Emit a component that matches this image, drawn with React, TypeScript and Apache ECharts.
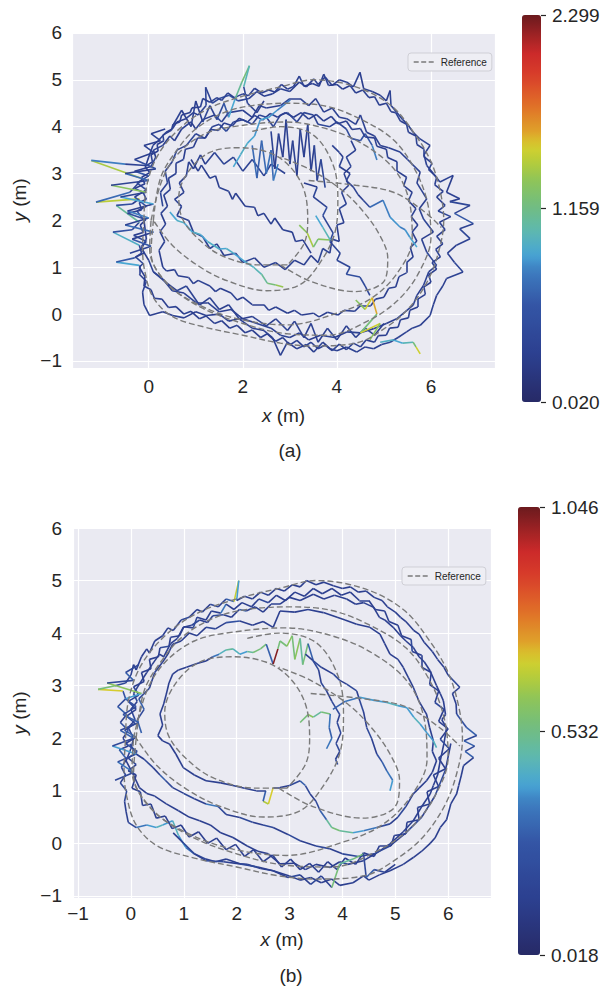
import React, { useEffect, useRef } from 'react';
import * as echarts from 'echarts';

type P = [number, number, number];

// ---------- colour bar ranges and tick labels ----------
const A_MIN = 0.020;
const A_MAX = 2.299;
const B_MIN = 0.018;
const B_MAX = 1.046;
const A_BAR_TICKS = ['0.020', '1.159', '2.299'];
const B_BAR_TICKS = ['0.018', '0.532', '1.046'];

// ---------- reference path (same in both panels) ----------
const REF_OUTER: [number, number][] = [[-0.1,2.0],[-0.05,2.7],[0.2,3.4],[0.7,4.0],[1.3,4.4],[2.0,4.65],[2.8,4.85],[3.5,5.0],[4.4,4.85],[5.15,4.45],[5.65,3.85],[6.0,3.25],[6.2,2.6],[6.27,2.0],[6.18,1.4],[5.95,0.75],[5.55,0.15],[5.05,-0.28],[4.4,-0.62],[3.5,-0.68],[2.8,-0.62],[2.0,-0.45],[1.2,-0.28],[0.5,-0.05],[0.1,0.35],[-0.08,0.9],[-0.13,1.4],[-0.1,2.0]];
const REF_SECOND: [number, number][] = [[0.1,2.0],[0.25,2.9],[0.6,3.5],[1.0,3.95],[1.6,4.3],[2.2,4.45],[3.0,4.5],[3.8,4.43],[4.5,4.16],[5.2,3.72],[5.65,3.1],[5.92,2.4],[6.0,1.65],[5.75,0.9],[5.3,0.3],[4.65,-0.15],[3.8,-0.45],[2.95,-0.42],[2.0,-0.2],[1.1,0.15],[0.4,0.65],[0.05,1.3],[0.1,2.0]];
const REF_THIRD: [number, number][] = [[0.05,2.0],[0.3,2.9],[0.65,3.45],[1.2,3.85],[1.8,4.0],[2.9,4.1],[3.8,3.95],[4.6,3.6],[5.25,3.05],[5.55,2.35],[5.6,1.6],[5.3,0.9],[4.75,0.35],[4.0,0.02],[2.95,-0.23],[1.93,-0.11],[1.08,0.19],[0.36,0.68],[0.02,1.39],[0.05,2.0]];
const REF_INNER: [number, number][] = [[2.95,1.05],[2.35,1.05],[1.57,1.24],[1.08,1.58],[0.72,2.03],[0.64,2.5],[0.85,3.05],[1.3,3.45],[1.9,3.55],[2.55,3.45],[3.0,3.15],[3.3,2.65],[3.38,2.0],[3.3,1.5],[2.95,1.05]];
const REF_CENTER: [number, number][] = [[2.2,3.9],[2.8,4.0],[3.5,3.82],[3.92,3.18],[4.02,2.45],[3.96,1.75],[3.65,1.11],[3.2,0.62],[2.5,0.5],[1.7,0.7],[1.1,1.0],[0.5,1.47],[0.08,2.03]];
const REF_LOOP: [number, number][] = [[2.8,1.05],[3.44,0.7],[4.39,0.48],[5.0,0.7],[5.08,1.2],[4.9,1.7],[4.55,2.2],[4.1,2.65],[3.4,3.1],[2.8,3.35]];
const REF_CROSS: [number, number][] = [[3.4,2.85],[4.4,2.75],[5.2,2.6],[5.84,2.2],[6.22,1.85]];
const REF_PATHS = [REF_OUTER, REF_SECOND, REF_THIRD, REF_INNER, REF_CENTER, REF_LOOP, REF_CROSS];

// ---------- panel (a) estimated trajectory: [x, y, error] ----------
const A_LAP1: P[] = [[0.02,-0.03,0.3],[-0.1,0.2,0.35],[-0.13,0.47,0.3],[-0.05,0.7,0.35],[-0.2,0.85,0.3],[-0.2,1.04,0.35],[-0.69,1.11,0.9],[-0.3,1.2,0.6],[-0.15,1.3,0.3],[-0.2,1.47,0.35],[-0.76,1.75,0.95],[-0.35,1.8,0.55],[-0.2,1.96,0.35],[-0.69,2.32,1.1],[-0.35,2.35,0.5],[-0.2,2.46,0.3],[-1.12,2.39,1.45],[-0.4,2.6,0.7],[-0.13,2.89,0.35],[-1.22,3.28,1.4],[-0.5,3.2,0.8],[-0.06,3.17,0.35],[0.0,3.35,0.3],[0.09,3.6,0.35],[0.2,3.7,0.3],[0.37,3.88,0.35],[0.5,3.95,0.3],[0.6,4.1,0.35],[0.79,4.17,0.3],[0.95,4.3,0.35],[1.05,4.25,0.3],[1.22,4.45,0.35],[1.21,4.84,0.4],[1.35,4.5,0.35],[1.5,4.6,0.4],[1.71,4.67,0.5],[1.9,4.55,0.6],[2.13,4.6,0.4],[2.3,4.75,0.35],[2.45,4.65,0.3],[2.63,4.7,0.35],[2.8,4.81,0.3],[3.0,4.75,0.35],[3.2,4.95,0.3],[3.35,4.85,0.35],[3.51,5.02,0.3],[3.6,4.9,0.35],[3.75,5.06,0.3],[3.9,4.88,0.35],[4.05,5.0,0.3],[4.21,4.95,0.35],[4.35,4.85,0.3],[4.49,5.16,0.35],[4.57,4.81,0.3],[4.75,4.75,0.35],[4.92,4.67,0.3],[5.05,4.55,0.35],[5.13,4.77,0.3],[5.15,4.45,0.35],[5.27,4.31,0.3],[5.4,4.15,0.35],[5.5,4.05,0.3],[5.62,3.88,0.35],[5.75,3.75,0.3],[5.98,3.6,0.35],[5.85,3.4,0.3],[5.91,3.17,0.35],[6.05,3.0,0.3],[6.19,2.82,0.35],[6.47,2.96,0.35],[6.33,2.6,0.3],[6.61,2.46,0.35],[6.4,2.4,0.3],[6.83,2.32,0.4],[6.5,2.15,0.35],[6.9,1.93,0.6],[6.61,1.82,0.35],[6.83,1.61,0.4],[6.54,1.47,0.35],[6.35,1.3,0.3],[6.5,1.1,0.35],[6.68,0.9,0.4],[6.33,0.76,0.35],[6.25,0.6,0.3],[6.12,0.4,0.35],[6.05,0.2,0.3],[5.98,-0.03,0.35],[5.77,-0.24,0.3],[5.6,-0.3,0.35],[5.48,-0.38,0.3],[5.3,-0.5,0.35],[5.13,-0.6,0.3],[4.95,-0.65,0.35],[4.78,-0.74,0.3],[4.6,-0.7,0.35],[4.42,-0.81,0.3],[4.2,-0.7,0.35],[4.0,-0.78,0.3],[3.86,-0.74,0.35],[3.7,-0.6,0.3],[3.51,-0.81,0.35],[3.35,-0.65,0.3],[3.15,-0.74,0.35],[2.95,-0.6,0.3],[2.8,-0.88,0.35],[2.63,-0.5,0.3],[2.45,-0.35,0.35],[2.2,-0.3,0.3],[1.92,-0.1,0.35],[1.7,-0.15,0.3],[1.5,0.0,0.35],[1.22,-0.03,0.3],[1.0,0.05,0.35],[0.75,-0.08,0.3],[0.51,-0.03,0.35],[0.3,0.05,0.3],[0.02,-0.03,0.3]];
const A_LAP2: P[] = [[-0.1,2.0,0.3],[-0.25,2.2,0.5],[-0.05,2.3,0.3],[-0.3,2.5,0.55],[-0.05,2.65,0.3],[-0.25,2.8,0.45],[0.0,2.95,0.3],[-0.3,3.05,0.6],[0.05,3.15,0.3],[0.15,3.35,0.35],[0.1,3.5,0.3],[0.3,3.6,0.35],[0.45,3.8,0.3],[0.55,3.7,0.35],[0.7,3.95,0.3],[0.9,4.1,0.35],[1.0,3.95,0.3],[1.15,4.15,0.35],[1.4,4.25,0.3],[1.55,4.1,0.45],[1.7,4.3,0.35],[2.0,4.35,0.3],[2.2,4.2,0.35],[2.35,4.45,0.3],[2.5,4.4,0.35],[2.8,4.45,0.3],[3.0,4.6,0.35],[3.22,4.6,0.3],[3.4,4.45,0.35],[3.55,4.6,0.3],[3.72,4.31,0.35],[3.9,4.4,0.3],[4.05,4.2,0.35],[4.21,4.17,0.3],[4.4,4.05,0.35],[4.5,4.25,0.3],[4.63,3.88,0.35],[4.8,3.8,0.3],[4.92,3.6,0.35],[5.1,3.55,0.3],[5.34,3.46,0.35],[5.5,3.3,0.3],[5.77,3.03,0.35],[5.7,2.8,0.3],[5.91,2.46,0.35],[5.75,2.25,0.3],[5.84,2.03,0.35],[6.05,1.75,0.4],[5.8,1.6,0.3],[5.91,1.32,0.35],[6.12,1.04,0.4],[5.95,0.9,0.3],[5.84,0.61,0.35],[5.7,0.4,0.3],[5.62,0.19,0.35],[5.45,0.05,0.3],[5.27,-0.1,0.35],[5.05,-0.2,0.3],[4.78,-0.31,0.35],[4.5,-0.4,0.3],[4.21,-0.38,0.35],[3.95,-0.5,0.3],[3.65,-0.45,0.35],[3.4,-0.55,0.3],[3.2,-0.4,0.35],[3.0,-0.5,0.3],[2.8,-0.45,0.35],[2.6,-0.3,0.3],[2.3,-0.2,0.35],[2.0,-0.1,0.3],[1.75,0.1,0.35],[1.5,0.05,0.3],[1.25,0.25,0.35],[1.0,0.25,0.3],[0.75,0.45,0.35],[0.5,0.5,0.3],[0.3,0.75,0.35],[0.1,0.9,0.3],[0.0,1.15,0.35],[-0.15,1.4,0.3],[-0.05,1.6,0.35],[-0.1,2.0,0.3]];
const A_LAP3: P[] = [[0.3,2.3,0.35],[0.25,2.6,0.4],[0.4,2.8,0.35],[0.35,3.05,0.4],[0.5,3.25,0.35],[0.6,3.5,0.4],[0.8,3.6,0.35],[1.0,3.85,0.4],[1.2,3.75,0.35],[1.35,4.0,0.4],[1.5,4.05,0.35],[1.65,3.9,0.5],[1.8,4.1,0.4],[2.0,4.15,0.35],[2.2,4.05,0.4],[2.35,4.25,0.35],[2.5,4.2,0.4],[2.65,4.0,0.35],[2.8,4.25,0.4],[2.95,4.3,0.35],[3.15,4.1,0.4],[3.3,4.3,0.35],[3.5,4.25,0.4],[3.6,4.05,0.35],[3.85,4.0,0.4],[4.0,4.1,0.35],[4.2,3.95,0.4],[4.3,3.75,0.45],[4.5,3.7,0.5],[4.6,3.85,0.55],[4.75,3.6,0.6],[4.85,3.29,0.8]];
const A_LAP4: P[] = [[-0.2,1.0,0.3],[-0.12,1.08,0.35],[-0.28,1.22,0.4],[-0.1,1.3,0.3],[-0.15,1.45,0.35],[-0.05,1.55,0.3],[-0.32,1.68,0.45],[-0.12,1.74,0.3],[-0.18,1.9,0.35],[-0.06,2.02,0.3],[-0.45,2.15,0.5],[-0.15,2.22,0.3],[-0.2,2.38,0.4],[-0.05,2.45,0.3],[-0.12,2.6,0.35],[-0.3,2.68,0.45],[-0.08,2.78,0.3],[-0.15,2.92,0.35],[0.02,3.02,0.3],[-0.08,3.15,0.35],[0.08,3.25,0.3],[0.05,3.4,0.35],[0.2,3.48,0.3],[0.18,3.62,0.35],[0.32,3.7,0.3],[0.3,3.82,0.35],[0.48,3.92,0.3],[0.52,4.05,0.35],[0.66,4.1,0.3],[0.7,4.25,0.35],[0.88,4.3,0.3],[0.92,4.4,0.35],[1.1,4.42,0.3],[1.15,4.6,0.35],[1.3,4.52,0.3],[1.45,4.62,0.35],[1.55,4.56,0.3],[1.68,4.72,0.35],[1.82,4.62,0.3],[2.0,4.7,0.35],[2.12,4.66,0.3],[2.25,4.82,0.35],[2.4,4.72,0.3],[2.55,4.78,0.35],[2.68,4.74,0.3],[2.82,4.9,0.35],[2.95,4.8,0.3],[3.08,4.86,0.35],[3.2,5.08,0.3],[3.3,4.86,0.35],[3.48,4.92,0.3],[3.62,4.86,0.35],[3.72,5.12,0.3],[3.82,4.88,0.35],[4.0,4.9,0.3],[4.12,4.8,0.35],[4.28,4.88,0.3],[4.4,4.72,0.35],[4.55,4.78,0.3],[4.68,4.62,0.35],[4.8,4.64,0.3],[4.9,4.46,0.35],[5.05,4.5,0.3],[5.15,4.32,0.35],[5.25,4.3,0.3],[5.35,4.12,0.35],[5.48,4.05,0.3],[5.52,3.88,0.35],[5.68,3.8,0.3],[5.7,3.62,0.35],[5.85,3.52,0.3],[5.85,3.36,0.35],[6.02,3.22,0.3],[5.95,3.08,0.35],[6.12,2.92,0.3],[6.08,2.76,0.35],[6.26,2.62,0.3],[6.12,2.5,0.35],[6.3,2.32,0.3],[6.15,2.2,0.35],[6.42,2.08,0.4],[6.18,1.96,0.3],[6.3,1.8,0.35],[6.12,1.66,0.3],[6.25,1.5,0.35],[6.1,1.38,0.3],[6.2,1.22,0.35],[6.02,1.1,0.3],[6.12,0.96,0.35],[5.95,0.84,0.3],[6.0,0.68,0.35],[5.85,0.58,0.3],[5.88,0.42,0.35],[5.72,0.32,0.3],[5.72,0.15,0.35],[5.55,0.08,0.3],[5.52,-0.08,0.35],[5.35,-0.12,0.3],[5.3,-0.28,0.35],[5.12,-0.3,0.3],[5.05,-0.45,0.35],[4.88,-0.46,0.3],[4.8,-0.6,0.35],[4.62,-0.55,0.3],[4.5,-0.7,0.35],[4.35,-0.62,0.3],[4.2,-0.76,0.35],[4.05,-0.64,0.3],[3.9,-0.78,0.35],[3.75,-0.66,0.3],[3.6,-0.74,0.35],[3.45,-0.6,0.3],[3.3,-0.7,0.35],[3.15,-0.56,0.3],[3.0,-0.66,0.35],[2.85,-0.5,0.3],[2.7,-0.58,0.35],[2.52,-0.42,0.3],[2.38,-0.5,0.35],[2.2,-0.34,0.3],[2.05,-0.4,0.35],[1.88,-0.24,0.3],[1.72,-0.3,0.35],[1.55,-0.14,0.3],[1.4,-0.2,0.35],[1.22,-0.04,0.3],[1.08,-0.1,0.35],[0.9,0.06,0.3],[0.75,0.0,0.35],[0.58,0.16,0.3],[0.42,0.14,0.35],[0.28,0.32,0.3],[0.12,0.34,0.35],[0.05,0.52,0.3],[-0.1,0.6,0.35],[-0.08,0.8,0.3],[-0.2,1.0,0.3]];
const A_LAP5: P[] = [[0.3,1.0,0.3],[0.38,0.92,0.35],[0.55,0.95,0.3],[0.62,0.82,0.35],[0.85,0.78,0.3],[0.95,0.65,0.35],[1.05,0.72,0.3],[1.3,0.6,0.35],[1.42,0.48,0.3],[1.52,0.55,0.35],[1.75,0.45,0.3],[1.88,0.3,0.35],[2.0,0.36,0.3],[2.2,0.2,0.35],[2.45,0.2,0.3],[2.55,0.08,0.35],[2.7,0.15,0.3],[2.95,0.02,0.35],[3.1,0.08,0.3],[3.25,-0.02,0.35],[3.5,0.02,0.3],[3.62,-0.06,0.35],[3.8,0.04,0.3],[4.02,-0.02,0.35],[4.15,0.08,0.3],[4.38,0.06,0.35],[4.5,0.18,0.3],[4.72,0.18,0.35],[4.82,0.32,0.3],[5.0,0.36,0.35],[5.1,0.55,0.3],[5.25,0.58,0.35],[5.32,0.8,0.3],[5.48,0.88,0.35],[5.48,1.1,0.3],[5.62,1.22,0.35],[5.56,1.42,0.3],[5.7,1.56,0.35],[5.6,1.75,0.3],[5.72,1.9,0.35],[5.58,2.08,0.3],[5.68,2.25,0.35],[5.52,2.42,0.3],[5.6,2.6,0.35],[5.42,2.74,0.3],[5.48,2.92,0.35],[5.28,3.05,0.3],[5.28,3.25,0.35],[5.08,3.34,0.3],[5.05,3.52,0.35],[4.85,3.58,0.3],[4.8,3.76,0.35],[4.6,3.78,0.3],[4.5,3.96,0.35],[4.32,3.94,0.3],[4.2,4.12,0.35],[4.02,4.06,0.3],[3.88,4.22,0.35],[3.72,4.12,0.3],[3.56,4.26,0.35],[3.4,4.16,0.3],[3.24,4.3,0.35],[3.08,4.2,0.3],[2.9,4.3,0.35],[2.74,4.2,0.3],[2.58,4.28,0.35],[2.42,4.14,0.3],[2.25,4.24,0.35],[2.1,4.1,0.3],[1.92,4.18,0.35],[1.78,4.02,0.3],[1.6,4.08,0.35],[1.48,3.92,0.3],[1.32,3.94,0.35],[1.2,3.76,0.3],[1.04,3.76,0.35],[0.95,3.56,0.3],[0.78,3.52,0.35],[0.74,3.3,0.3],[0.58,3.22,0.35],[0.58,3.0,0.3],[0.42,2.9,0.35],[0.46,2.66,0.3],[0.32,2.54,0.35],[0.4,2.3,0.3],[0.26,2.15,0.35],[0.36,1.92,0.3],[0.24,1.76,0.35],[0.34,1.55,0.3],[0.22,1.36,0.35],[0.3,1.0,0.3]];
const A_LEFT: P[] = [[-0.4,1.3,0.5],[0.05,1.45,0.35],[-0.35,1.6,0.6],[0.1,1.75,0.3],[-0.5,1.9,0.7],[0.0,2.05,0.35],[-0.45,2.2,0.8],[0.1,2.35,0.3],[-0.6,2.5,0.9],[-0.05,2.6,0.35],[-0.8,2.75,1.3],[0.0,2.85,0.35],[-0.5,3.0,0.7],[0.15,3.1,0.3],[-0.3,3.3,0.5],[0.1,3.45,0.3],[-0.1,3.6,0.35],[0.25,3.7,0.3],[0.05,3.85,0.35],[0.35,3.95,0.3]];
const A_TOPLEFT: P[] = [[0.5,4.0,0.3],[0.7,4.35,0.35],[0.9,4.0,0.3],[1.0,4.55,0.35],[1.15,4.1,0.3],[1.3,4.45,0.4],[1.45,4.15,0.35],[1.6,4.5,0.45],[1.7,4.2,0.6],[1.84,4.6,0.9],[1.98,4.95,1.1],[2.14,5.3,1.2],[2.02,4.85,1.0],[2.1,4.5,0.4],[2.3,4.3,0.35],[2.45,4.55,0.3]];
const A_INNER: P[] = [[2.9,3.0,0.3],[2.6,3.2,0.35],[2.45,2.95,0.3],[2.2,3.3,0.4],[2.0,3.05,0.35],[1.8,3.35,0.4],[1.6,3.2,0.35],[1.4,3.45,0.4],[1.2,3.2,0.35],[1.1,3.4,0.3],[0.95,3.1,0.35],[0.85,3.25,0.3],[0.8,2.95,0.35],[0.65,2.8,0.3],[0.75,2.6,0.35],[0.55,2.45,0.3],[0.7,2.3,0.35],[0.6,2.1,0.3],[0.85,2.0,0.35],[0.95,1.75,0.3],[1.15,1.65,0.35],[1.3,1.4,0.3],[1.45,1.5,0.35],[1.6,1.25,0.3],[1.85,1.3,0.35],[2.0,1.1,0.3],[2.25,1.2,0.35],[2.45,1.0,0.3],[2.7,1.1,0.35],[2.9,0.95,0.3],[3.1,1.15,0.35],[3.3,1.05,0.3]];
const A_TEAL_LOW: P[] = [[0.45,2.18,0.85],[0.6,2.0,0.9],[0.75,1.95,0.95],[0.93,1.75,0.9],[1.1,1.7,0.95],[1.25,1.55,0.9],[1.5,1.39,0.95],[1.65,1.4,0.9],[1.8,1.3,0.95],[2.06,1.11,0.9],[2.23,1.0,0.95],[2.4,0.85,1.0],[2.52,0.66,1.1],[2.7,0.62,1.2],[2.86,0.58,1.35]];
const A_TEAL_UP: P[] = [[1.8,3.14,0.85],[1.95,3.4,0.9],[2.1,3.65,0.95],[2.25,3.8,0.9],[2.37,4.14,0.85],[2.55,4.2,0.9],[2.73,4.35,0.85],[3.01,4.57,0.8]];
const A_ZIG: P[] = [[2.6,3.9,0.3],[2.68,3.1,0.35],[2.76,3.85,0.3],[2.85,3.35,0.35],[2.92,4.15,0.3],[3.0,3.2,0.35],[3.06,3.7,0.3],[3.15,2.95,0.35],[3.22,3.95,0.3],[3.3,3.35,0.35],[3.38,4.05,0.3],[3.45,3.05,0.35],[3.52,3.6,0.3],[3.58,2.85,0.4],[3.66,3.3,0.35],[3.75,2.7,0.4]];
const A_ZIG_LIGHT: P[] = [[2.2,3.6,0.6],[2.3,2.9,0.7],[2.4,3.7,0.65],[2.5,3.0,0.7],[2.6,3.5,0.75],[2.65,2.85,0.7],[2.75,3.2,0.8]];
const A_CENTER: P[] = [[3.9,3.6,0.3],[4.05,3.45,0.35],[4.13,3.35,0.3],[4.05,3.15,0.35],[4.28,3.0,0.3],[4.2,2.85,0.35],[4.35,2.71,0.3],[4.45,2.55,0.35],[4.56,2.43,0.3],[4.7,2.28,0.4],[4.98,2.43,0.7],[5.13,2.07,0.8],[5.34,1.86,0.85],[5.45,1.8,0.8],[5.55,1.64,0.85],[5.7,1.43,0.9]];
const A_CENTER2: P[] = [[3.3,2.8,0.35],[3.58,2.71,0.3],[3.5,2.5,0.4],[3.79,2.28,0.35],[3.7,2.1,0.5],[3.92,1.73,0.4],[3.85,1.55,0.45],[4.07,1.3,0.4],[4.0,1.15,0.35],[4.28,1.0,0.4],[4.2,0.85,0.45],[4.49,0.79,0.5],[4.6,0.6,0.45],[4.7,0.4,0.4]];
const A_RIGHT_IN: P[] = [[3.3,1.05,0.3],[3.45,1.25,0.35],[3.6,1.1,0.3],[3.7,1.4,0.4],[3.85,1.3,0.35],[3.9,1.6,0.3],[4.05,1.55,0.35],[4.0,1.9,0.3],[4.15,1.95,0.35],[4.05,2.25,0.3],[4.2,2.35,0.4],[4.1,2.6,0.35],[4.25,2.75,0.3],[4.15,3.0,0.35],[4.3,3.15,0.3],[4.2,3.35,0.4],[4.4,3.5,0.35],[4.3,3.7,0.3]];
const A_GREEN: P[] = [[3.2,1.9,0.9],[3.37,1.73,1.3],[3.5,1.43,1.4],[3.6,1.6,1.2],[3.86,1.58,1.3],[3.7,1.85,1.0],[3.55,2.1,0.9]];
const A_DIAG: P[] = [[0.9,3.3,0.35],[1.05,3.05,0.3],[1.12,3.18,0.35],[1.3,2.9,0.3],[1.42,2.95,0.35],[1.5,2.7,0.3],[1.7,2.62,0.35],[1.78,2.45,0.3],[1.85,2.58,0.35],[2.05,2.3,0.3],[2.25,2.28,0.35],[2.32,2.1,0.3],[2.45,2.15,0.35],[2.6,1.92,0.3],[2.68,2.05,0.35],[2.85,1.8,0.3],[3.05,1.75,0.35],[3.12,1.55,0.3],[3.28,1.58,0.35],[3.45,1.3,0.3]];
const A_LOWER: P[] = [[0.1,0.9,0.3],[0.36,0.68,0.35],[0.6,0.5,0.3],[0.8,0.6,0.4],[1.08,0.19,0.35],[1.3,0.35,0.3],[1.5,0.1,0.35],[1.7,0.2,0.3],[1.93,-0.11,0.35],[2.2,-0.05,0.3],[2.5,-0.25,0.35],[2.7,-0.1,0.3],[2.95,-0.35,0.35],[3.1,-0.15,0.3],[3.3,-0.5,0.35],[3.45,-0.2,0.3],[3.6,-0.6,0.35],[3.8,-0.3,0.3],[4.0,-0.55,0.35],[4.2,-0.25,0.3],[4.4,-0.5,0.35],[4.6,-0.3,0.3],[4.8,-0.45,0.35],[5.0,-0.2,0.3]];
const A_YELLOW: P[] = [[4.4,0.3,0.9],[4.6,0.1,1.3],[4.75,0.35,1.5],[4.85,0.0,1.6],[4.5,-0.4,1.2],[4.92,-0.2,1.5],[4.7,-0.55,1.3]];
const A_BOTTOM_RIGHT: P[] = [[4.92,-0.6,0.9],[5.2,-0.55,0.95],[5.4,-0.62,0.9],[5.62,-0.6,1.0],[5.68,-0.7,1.2],[5.77,-0.85,1.5]];
const A_LAPS = [A_LAP1, A_LAP2, A_LAP3, A_LAP4, A_LAP5, A_LEFT, A_TOPLEFT, A_INNER, A_TEAL_LOW, A_TEAL_UP, A_ZIG, A_ZIG_LIGHT, A_CENTER, A_CENTER2, A_RIGHT_IN, A_GREEN, A_DIAG, A_LOWER, A_YELLOW, A_BOTTOM_RIGHT];

// ---------- panel (b) estimated trajectory: [x, y, error] ----------
const B_LAP1: P[] = [[-0.2,1.15,0.2],[-0.1,1.3,0.15],[-0.18,1.45,0.2],[-0.08,1.6,0.15],[-0.22,1.78,0.3],[-0.05,1.85,0.15],[-0.15,2.0,0.2],[-0.05,2.15,0.15],[-0.2,2.3,0.25],[-0.08,2.45,0.15],[-0.25,2.6,0.3],[-0.1,2.75,0.2],[-0.15,2.9,0.25],[-0.62,2.93,0.7],[-0.3,3.0,0.55],[-0.1,3.05,0.2],[0.0,3.2,0.15],[0.05,3.4,0.15],[0.1,3.3,0.15],[0.2,3.55,0.15],[0.3,3.7,0.15],[0.35,3.62,0.15],[0.45,3.85,0.15],[0.6,3.95,0.15],[0.7,4.1,0.15],[0.8,4.05,0.15],[0.95,4.25,0.15],[1.1,4.3,0.2],[1.25,4.45,0.15],[1.35,4.4,0.15],[1.5,4.55,0.15],[1.65,4.5,0.2],[1.8,4.65,0.15],[1.95,4.6,0.3],[2.04,5.0,0.68],[2.0,4.62,0.4],[2.15,4.7,0.15],[2.3,4.65,0.15],[2.45,4.78,0.15],[2.6,4.72,0.15],[2.75,4.85,0.15],[2.9,4.8,0.15],[3.05,4.92,0.15],[3.2,4.88,0.15],[3.32,5.0,0.15],[3.5,4.92,0.15],[3.65,4.97,0.15],[3.83,4.9,0.15],[4.0,4.85,0.15],[4.15,4.88,0.15],[4.3,4.78,0.15],[4.45,4.8,0.15],[4.6,4.68,0.15],[4.75,4.62,0.15],[4.85,4.5,0.15],[5.0,4.4,0.15],[5.1,4.3,0.15],[5.2,4.22,0.15],[5.35,4.05,0.15],[5.45,3.98,0.15],[5.55,3.82,0.15],[5.7,3.65,0.15],[5.8,3.5,0.15],[5.92,3.35,0.15],[6.0,3.2,0.15],[6.22,2.97,0.2],[6.08,2.85,0.15],[6.15,2.65,0.15],[6.16,2.46,0.15],[6.35,2.2,0.25],[6.54,2.05,0.3],[6.3,1.95,0.2],[6.5,1.85,0.3],[6.32,1.75,0.2],[6.48,1.63,0.3],[6.29,1.48,0.15],[6.25,1.3,0.15],[6.2,1.1,0.15],[6.16,0.94,0.15],[6.05,0.75,0.15],[5.97,0.45,0.15],[5.85,0.3,0.15],[5.75,0.1,0.15],[5.66,0.0,0.15],[5.5,-0.15,0.15],[5.34,-0.27,0.15],[5.15,-0.4,0.15],[4.9,-0.52,0.15],[4.7,-0.6,0.15],[4.5,-0.7,0.15],[4.4,-0.62,0.15],[4.2,-0.75,0.15],[3.95,-0.8,0.15],[3.8,-0.68,0.15],[3.6,-0.75,0.15],[3.4,-0.65,0.15],[3.2,-0.7,0.15],[3.0,-0.62,0.15],[2.69,-0.52,0.15],[2.45,-0.48,0.15],[2.2,-0.4,0.15],[2.06,-0.39,0.15],[1.8,-0.3,0.15],[1.6,-0.35,0.15],[1.42,-0.3,0.15],[1.2,-0.2,0.2],[1.04,-0.08,0.35],[0.9,0.15,0.4],[0.79,0.43,0.45],[0.6,0.35,0.4],[0.48,0.3,0.45],[0.3,0.35,0.4],[0.1,0.3,0.35],[-0.05,0.4,0.2],[-0.09,0.6,0.15],[-0.12,0.8,0.15],[-0.08,1.0,0.2],[-0.2,1.15,0.2]];
const B_LAP2: P[] = [[0.0,1.8,0.15],[0.05,2.0,0.15],[-0.05,2.2,0.2],[0.08,2.35,0.15],[0.0,2.55,0.2],[0.12,2.7,0.15],[0.05,2.85,0.2],[0.16,3.03,0.15],[0.3,3.25,0.15],[0.4,3.4,0.15],[0.54,3.6,0.15],[0.62,3.55,0.15],[0.75,3.8,0.15],[0.88,3.9,0.15],[0.99,4.11,0.15],[1.15,4.15,0.15],[1.3,4.25,0.2],[1.45,4.2,0.15],[1.55,4.33,0.15],[1.75,4.35,0.2],[1.9,4.3,0.15],[2.05,4.45,0.15],[2.18,4.42,0.3],[2.35,4.5,0.15],[2.5,4.4,0.15],[2.65,4.55,0.15],[2.82,4.55,0.15],[3.0,4.68,0.15],[3.2,4.62,0.15],[3.45,4.74,0.15],[3.65,4.65,0.15],[3.85,4.72,0.15],[4.08,4.65,0.15],[4.25,4.55,0.15],[4.4,4.58,0.15],[4.59,4.49,0.15],[4.7,4.3,0.15],[4.8,4.25,0.15],[4.96,4.11,0.15],[5.1,3.95,0.15],[5.2,3.85,0.15],[5.34,3.73,0.15],[5.45,3.55,0.15],[5.55,3.45,0.15],[5.66,3.28,0.15],[5.78,3.0,0.15],[5.85,2.85,0.15],[5.91,2.71,0.15],[5.95,2.45,0.15],[5.88,2.35,0.15],[5.97,2.2,0.15],[5.92,1.9,0.15],[5.85,1.57,0.15],[5.8,1.3,0.15],[5.72,1.1,0.15],[5.66,0.94,0.15],[5.5,0.7,0.15],[5.34,0.43,0.15],[5.15,0.22,0.15],[4.9,-0.01,0.15],[4.65,-0.18,0.15],[4.4,-0.33,0.15],[4.1,-0.4,0.15],[3.95,-0.35,0.2],[3.77,-0.46,0.15],[3.5,-0.4,0.15],[3.3,-0.5,0.15],[3.1,-0.38,0.15],[2.82,-0.39,0.15],[2.6,-0.2,0.15],[2.4,-0.15,0.15],[2.2,-0.05,0.15],[1.93,0.11,0.15],[1.7,0.2,0.15],[1.5,0.35,0.15],[1.3,0.43,0.15],[1.1,0.5,0.15],[0.9,0.62,0.15],[0.67,0.75,0.15],[0.45,0.9,0.15],[0.3,0.95,0.15],[0.16,1.06,0.15],[0.05,1.3,0.15],[-0.09,1.57,0.15],[0.0,1.8,0.15]];
const B_LAP3: P[] = [[0.2,2.1,0.2],[0.12,2.35,0.3],[0.25,2.55,0.2],[0.15,2.75,0.3],[0.35,2.95,0.2],[0.45,3.25,0.15],[0.6,3.45,0.15],[0.7,3.6,0.15],[0.79,3.79,0.15],[0.95,3.85,0.15],[1.1,4.0,0.15],[1.25,3.95,0.15],[1.42,4.11,0.15],[1.6,4.08,0.2],[1.8,4.2,0.15],[2.06,4.23,0.25],[2.3,4.15,0.15],[2.5,4.22,0.15],[2.69,4.11,0.15],[2.82,4.42,0.15],[3.1,4.4,0.15],[3.35,4.45,0.15],[3.64,4.39,0.15],[3.9,4.3,0.15],[4.05,4.25,0.15],[4.27,4.17,0.15],[4.52,4.11,0.15],[4.71,3.98,0.15],[4.8,3.8,0.15],[4.9,3.6,0.15],[5.05,3.5,0.15],[5.15,3.35,0.15],[5.25,3.15,0.15],[5.34,2.97,0.15],[5.45,2.7,0.15],[5.59,2.46,0.15],[5.65,2.2,0.15],[5.72,1.95,0.15],[5.7,1.75,0.15],[5.78,1.57,0.15],[5.7,1.35,0.15],[5.59,1.19,0.15],[5.45,1.05,0.15],[5.34,0.94,0.15],[5.2,0.7,0.15],[5.05,0.5,0.2],[4.9,0.37,0.15],[4.65,0.3,0.2],[4.4,0.24,0.35],[4.2,0.2,0.4],[3.95,0.24,0.5],[3.8,0.3,0.55],[3.7,0.45,0.5],[3.58,0.62,0.3],[3.5,0.8,0.2],[3.39,0.94,0.15],[3.3,1.1,0.2],[3.2,1.19,0.3],[3.0,1.1,0.2],[2.82,1.06,0.15]];
const B_LAP4: P[] = [[0.1,1.5,0.15],[-0.05,1.62,0.2],[0.12,1.75,0.15],[-0.1,1.9,0.25],[0.1,2.02,0.15],[-0.12,2.15,0.3],[0.08,2.28,0.15],[-0.08,2.42,0.2],[0.1,2.55,0.15],[-0.05,2.7,0.2],[0.15,2.82,0.15],[0.05,2.98,0.2],[0.25,3.08,0.15],[0.2,3.25,0.15],[0.38,3.32,0.15],[0.35,3.5,0.15],[0.52,3.55,0.15],[0.55,3.72,0.15],[0.72,3.75,0.2],[0.75,3.92,0.15],[0.92,3.95,0.15],[1.0,4.12,0.15],[1.18,4.1,0.15],[1.25,4.3,0.2],[1.42,4.25,0.15],[1.52,4.42,0.15],[1.7,4.38,0.15],[1.8,4.55,0.35],[1.95,4.45,0.15],[2.1,4.58,0.15],[2.28,4.5,0.15],[2.42,4.65,0.15],[2.6,4.58,0.2],[2.75,4.72,0.15],[2.92,4.62,0.15],[3.1,4.78,0.15],[3.28,4.7,0.15],[3.45,4.85,0.15],[3.62,4.75,0.15],[3.8,4.85,0.15],[3.98,4.72,0.15],[4.15,4.78,0.15],[4.32,4.62,0.15],[4.5,4.62,0.15],[4.62,4.45,0.15],[4.8,4.42,0.15],[4.88,4.22,0.15],[5.05,4.15,0.15],[5.12,3.95,0.15],[5.3,3.88,0.15],[5.32,3.65,0.2],[5.5,3.58,0.15],[5.5,3.35,0.15],[5.68,3.25,0.15],[5.65,3.02,0.15],[5.82,2.9,0.15],[5.75,2.68,0.15],[5.92,2.55,0.2],[5.82,2.32,0.15],[6.0,2.18,0.15],[5.85,1.98,0.15],[6.02,1.8,0.2],[5.82,1.62,0.15],[5.95,1.42,0.15],[5.72,1.3,0.15],[5.82,1.08,0.15],[5.6,0.98,0.15],[5.65,0.75,0.15],[5.42,0.68,0.15],[5.45,0.45,0.15],[5.22,0.4,0.15],[5.2,0.18,0.15],[4.98,0.15,0.15],[4.92,-0.05,0.15],[4.7,-0.05,0.15],[4.6,-0.25,0.15],[4.4,-0.18,0.15],[4.25,-0.4,0.15],[4.05,-0.28,0.15],[3.9,-0.5,0.15],[3.72,-0.35,0.15],[3.55,-0.55,0.15],[3.38,-0.38,0.15],[3.2,-0.5,0.15],[3.02,-0.3,0.15],[2.85,-0.45,0.15],[2.68,-0.22,0.15],[2.5,-0.35,0.15],[2.32,-0.12,0.15],[2.15,-0.25,0.15],[1.98,-0.02,0.15],[1.8,-0.12,0.15],[1.62,0.1,0.15],[1.45,0.0,0.15],[1.28,0.22,0.15],[1.1,0.12,0.15],[0.95,0.35,0.15],[0.78,0.28,0.15],[0.65,0.52,0.15],[0.48,0.48,0.15],[0.38,0.75,0.15],[0.22,0.72,0.15],[0.18,0.98,0.15],[0.02,1.05,0.15],[0.1,1.3,0.15],[-0.05,1.38,0.15],[0.1,1.5,0.15]];
const B_INNER: P[] = [[2.82,1.06,0.15],[2.69,1.06,0.15],[2.6,0.75,0.7],[2.5,0.8,0.65],[2.55,1.0,0.3],[2.37,1.0,0.15],[2.15,1.05,0.15],[1.93,1.1,0.15],[1.7,1.15,0.15],[1.42,1.19,0.15],[1.2,1.3,0.15],[0.99,1.44,0.15],[0.85,1.7,0.15],[0.73,1.89,0.15],[0.6,1.95,0.15],[0.51,2.05,0.15],[0.6,2.25,0.15],[0.55,2.46,0.15],[0.62,2.65,0.15],[0.67,2.84,0.15],[0.72,3.05,0.15],[0.79,3.22,0.15],[0.9,3.3,0.15],[1.05,3.35,0.15],[1.25,3.42,0.15],[1.42,3.47,0.15],[1.55,3.55,0.15],[1.67,3.6,0.35],[1.8,3.68,0.45],[1.93,3.7,0.5],[2.06,3.6,0.45],[2.2,3.65,0.4],[2.31,3.63,0.5],[2.45,3.7,0.55],[2.56,3.79,0.55],[2.69,3.41,0.3],[2.78,3.7,1.02],[2.82,3.85,0.55],[2.95,3.75,0.55],[3.05,3.95,0.6],[3.1,3.5,0.55],[3.2,3.9,0.6],[3.25,3.4,0.5],[3.35,3.8,0.55],[3.45,3.47,0.3],[3.6,3.35,0.2],[3.83,3.22,0.15],[3.95,3.1,0.2],[4.08,3.03,0.15],[4.27,2.9,0.2],[4.33,2.71,0.15],[4.4,2.5,0.2],[4.46,2.2,0.15],[4.55,2.0,0.2],[4.65,1.7,0.15],[4.75,1.55,0.25],[4.84,1.38,0.3],[4.95,1.2,0.35],[4.9,1.0,0.4]];
const B_STROKE: P[] = [[3.3,3.6,0.2],[3.44,3.48,0.15],[3.55,3.3,0.2],[3.6,3.05,0.15],[3.7,2.9,0.2],[3.8,2.7,0.15],[3.95,2.45,0.2],[3.9,2.3,0.15],[3.97,2.1,0.2],[3.88,1.9,0.15],[3.95,1.75,0.2],[3.87,1.6,0.15],[3.91,1.5,0.2]];
const B_TEAL: P[] = [[3.82,2.55,0.2],[4.05,2.7,0.3],[4.33,2.78,0.35],[4.6,2.72,0.4],[4.84,2.68,0.4],[5.05,2.62,0.45],[5.22,2.58,0.4],[5.35,2.4,0.4],[5.47,2.27,0.45],[5.6,2.1,0.4],[5.72,1.95,0.4],[5.78,1.82,0.45]];
const B_LOWER: P[] = [[-0.02,1.89,0.15],[0.1,1.7,0.2],[0.25,1.6,0.15],[0.42,1.44,0.2],[0.55,1.3,0.15],[0.65,1.2,0.3],[0.79,1.06,0.2],[1.0,0.95,0.15],[1.2,0.85,0.2],[1.42,0.75,0.15],[1.65,0.7,0.35],[1.8,0.55,0.2],[2.06,0.49,0.15],[2.3,0.4,0.2],[2.5,0.35,0.15],[2.69,0.3,0.2],[2.97,0.17,0.15],[3.2,0.05,0.2],[3.5,-0.05,0.15],[3.75,-0.1,0.2],[4.0,-0.2,0.15],[4.3,-0.25,0.2],[4.6,-0.2,0.15],[4.9,-0.05,0.2],[5.2,0.2,0.15],[5.5,0.5,0.2],[5.75,0.9,0.15],[5.95,1.4,0.2],[6.05,1.9,0.15]];
const B_BOTTOM: P[] = [[0.8,0.2,0.2],[1.0,0.0,0.15],[1.2,-0.2,0.2],[1.42,-0.33,0.15],[1.75,-0.35,0.2],[2.06,-0.39,0.15],[2.4,-0.45,0.2],[2.69,-0.52,0.15],[2.97,-0.65,0.15],[3.2,-0.6,0.2],[3.4,-0.78,0.15],[3.6,-0.62,0.2],[3.8,-0.84,0.15],[3.95,-0.39,0.55],[4.2,-0.3,0.5],[4.4,-0.2,0.55],[4.45,-0.65,0.2],[4.6,-0.5,0.3],[4.8,-0.55,0.2],[5.0,-0.4,0.15]];
const B_GREEN: P[] = [[3.2,2.3,0.3],[3.35,2.45,0.55],[3.45,2.4,0.6],[3.6,2.5,0.5],[3.77,2.46,0.55],[3.75,2.2,0.35],[3.8,2.0,0.3],[3.7,1.8,0.35]];
const B_LEFT: P[] = [[-0.3,1.2,0.3],[0.05,1.35,0.2],[-0.25,1.55,0.35],[0.1,1.7,0.2],[-0.35,1.85,0.4],[0.05,2.0,0.2],[-0.2,2.15,0.3],[0.15,2.3,0.2],[-0.15,2.45,0.3],[0.1,2.6,0.2],[-0.1,2.75,0.25],[0.2,2.85,0.4],[-0.45,3.05,0.6],[0.05,3.1,0.2],[-0.1,3.25,0.3],[0.15,3.4,0.2]];
const B_LAPS = [B_LAP1, B_LAP2, B_LAP3, B_LAP4, B_INNER, B_STROKE, B_TEAL, B_LOWER, B_BOTTOM, B_GREEN, B_LEFT];

// ---------- colormap ----------
const CMAP_STOPS: [number, string][] = [[0,'#272a66'],[0.12,'#2c3f8f'],[0.25,'#3455a5'],[0.34,'#3d7cc0'],[0.38,'#47a5d6'],[0.44,'#5db8b0'],[0.51,'#73bd7e'],[0.57,'#8cc45a'],[0.62,'#b5cc3a'],[0.66,'#d5d02e'],[0.70,'#dfa02a'],[0.76,'#e07428'],[0.84,'#d9402a'],[0.90,'#cc2a2a'],[1.0,'#6b1a1e']];

function hexRgb(h: string) {
  return [parseInt(h.slice(1, 3), 16), parseInt(h.slice(3, 5), 16), parseInt(h.slice(5, 7), 16)];
}
function cmap(t: number) {
  const v = Math.max(0, Math.min(1, t));
  for (let i = 1; i < CMAP_STOPS.length; i++) {
    const [t1, c1] = CMAP_STOPS[i];
    const [t0, c0] = CMAP_STOPS[i - 1];
    if (v <= t1) {
      const f = (v - t0) / (t1 - t0 || 1);
      const a = hexRgb(c0), b = hexRgb(c1);
      return `rgb(${Math.round(a[0] + (b[0] - a[0]) * f)},${Math.round(a[1] + (b[1] - a[1]) * f)},${Math.round(a[2] + (b[2] - a[2]) * f)})`;
    }
  }
  return CMAP_STOPS[CMAP_STOPS.length - 1][1];
}
const BAR_COLORS = Array.from({ length: 41 }, (_, i) => cmap(i / 40));

function segments(laps: P[][], lo: number, hi: number) {
  const out: any[] = [];
  laps.forEach((lap) => {
    for (let i = 1; i < lap.length; i++) {
      const a = lap[i - 1], b = lap[i];
      out.push({ coords: [[a[0], a[1]], [b[0], b[1]]], lineStyle: { color: cmap((b[2] - lo) / (hi - lo)) } });
    }
  });
  return out;
}

const FONT = "'Liberation Sans', Arial, sans-serif";
const TXT = '#262626';
const REF_COLOR = '#7a7a7a';

function fmtTick(v: number) {
  const r = Math.round(v);
  if (Math.abs(v - r) > 1e-6) return '';
  return r < 0 ? '\u2212' + Math.abs(r) : String(r);
}

function valueAxis(grid: number, min: number, max: number, step: number, name: string, nameGap: number, labelMargin: number) {
  return {
    type: 'value', gridIndex: grid, min, max, minInterval: step, maxInterval: step,
    name, nameLocation: 'middle', nameGap,
    nameTextStyle: { fontSize: 19, color: TXT, fontFamily: FONT, rich: { i: { fontStyle: 'italic', fontSize: 19, color: TXT, fontFamily: FONT } } },
    axisLine: { show: false }, axisTick: { show: false },
    axisLabel: { fontSize: 19, color: TXT, fontFamily: FONT, margin: labelMargin, formatter: fmtTick },
    splitLine: { show: true, lineStyle: { color: '#ffffff', width: 1.2 } },
  };
}

function barAxis(grid: number, labels: string[]) {
  return {
    type: 'category', gridIndex: grid, position: 'right', data: labels, boundaryGap: false,
    axisLine: { show: false, onZero: false },
    axisTick: { show: true, inside: false, length: 5, alignWithLabel: true, lineStyle: { color: TXT, width: 1.2 } },
    axisLabel: { fontSize: 19, color: TXT, fontFamily: FONT, margin: 11 },
    splitLine: { show: false },
  };
}

function refSeries(xi: number) {
  return REF_PATHS.map((p) => ({
    type: 'line', name: 'Reference', xAxisIndex: xi, yAxisIndex: xi, data: p,
    symbol: 'none', showSymbol: false, smooth: 0.35, silent: true, z: 4,
    itemStyle: { color: REF_COLOR },
    lineStyle: { color: REF_COLOR, width: 1.4, type: [6, 3] },
  }));
}

function legendFor(left: number, top: number) {
  return {
    data: ['Reference'], left, top, orient: 'horizontal',
    backgroundColor: '#eeeef4', borderColor: '#cfcfd6', borderWidth: 1, borderRadius: 3,
    padding: [4, 5, 4, 5], itemWidth: 22, itemHeight: 10, selectedMode: false,
    itemStyle: { opacity: 0 },
    lineStyle: { color: REF_COLOR, width: 1.4, type: [5, 2.5], opacity: 1 },
    textStyle: { fontSize: 10, color: TXT, fontFamily: FONT },
  };
}

export default function App() {
  const ref = useRef<HTMLDivElement>(null);
  useEffect(() => {
    if (!ref.current) return;
    const chart = echarts.init(ref.current, undefined, { renderer: 'svg' });
    const series: any[] = [
      { type: 'lines', coordinateSystem: 'cartesian2d', xAxisIndex: 0, yAxisIndex: 0, polyline: false, large: false, silent: true, z: 2,
        lineStyle: { width: 1.6, opacity: 1, curveness: 0 }, data: segments(A_LAPS, A_MIN, A_MAX) },
      { type: 'lines', coordinateSystem: 'cartesian2d', xAxisIndex: 1, yAxisIndex: 1, polyline: false, large: false, silent: true, z: 2,
        lineStyle: { width: 1.6, opacity: 1, curveness: 0 }, data: segments(B_LAPS, B_MIN, B_MAX) },
      { type: 'scatter', name: 'barA', xAxisIndex: 0, yAxisIndex: 0, data: [] },
      { type: 'scatter', name: 'barB', xAxisIndex: 1, yAxisIndex: 1, data: [] },
      ...refSeries(0),
      ...refSeries(1),
    ];
    chart.setOption({
      animation: false,
      backgroundColor: '#ffffff',
      grid: [
        { left: 72, top: 32, width: 423, height: 336, show: true, backgroundColor: '#eaeaf2', borderWidth: 0 },
        { left: 73, top: 528, width: 418, height: 370, show: true, backgroundColor: '#eaeaf2', borderWidth: 0 },
        { left: 522, top: 15, width: 19, height: 387 },
        { left: 518, top: 507, width: 22, height: 448 },
      ],
      xAxis: [
        valueAxis(0, -1.63, 7.36, 2, '{i|x} (m)', 38, 9),
        valueAxis(1, -1.095, 6.81, 1, '{i|x} (m)', 32, 6),
        { type: 'value', gridIndex: 2, show: false, min: 1, max: 2 },
        { type: 'value', gridIndex: 3, show: false, min: 1, max: 2 },
      ],
      yAxis: [
        valueAxis(0, -1.15, 6.02, 1, '{i|y} (m)', 40, 10),
        valueAxis(1, -1.04, 6.0, 1, '{i|y} (m)', 41, 11),
        barAxis(2, A_BAR_TICKS),
        barAxis(3, B_BAR_TICKS),
      ],
      visualMap: [
        { type: 'continuous', min: A_MIN, max: A_MAX, seriesIndex: 2, left: 522, top: 15, itemWidth: 19, itemHeight: 387,
          calculable: false, hoverLink: false, padding: 0, orient: 'vertical', inRange: { color: BAR_COLORS } },
        { type: 'continuous', min: B_MIN, max: B_MAX, seriesIndex: 3, left: 518, top: 507, itemWidth: 22, itemHeight: 448,
          calculable: false, hoverLink: false, padding: 0, orient: 'vertical', inRange: { color: BAR_COLORS } },
      ],
      legend: [legendFor(408, 53), legendFor(402, 567)],
      graphic: [
        { type: 'text', x: 290, y: 450, style: { text: '(a)', fontSize: 19, fontFamily: FONT, fill: TXT, align: 'center', verticalAlign: 'middle', textAlign: 'center', textVerticalAlign: 'middle' } },
        { type: 'text', x: 291, y: 975, style: { text: '(b)', fontSize: 19, fontFamily: FONT, fill: TXT, align: 'center', verticalAlign: 'middle', textAlign: 'center', textVerticalAlign: 'middle' } },
      ],
      series,
    });
    return () => chart.dispose();
  }, []);
  return <div ref={ref} style={{ position: 'absolute', left: 0, top: 0, width: 608, height: 987 }} />;
}
